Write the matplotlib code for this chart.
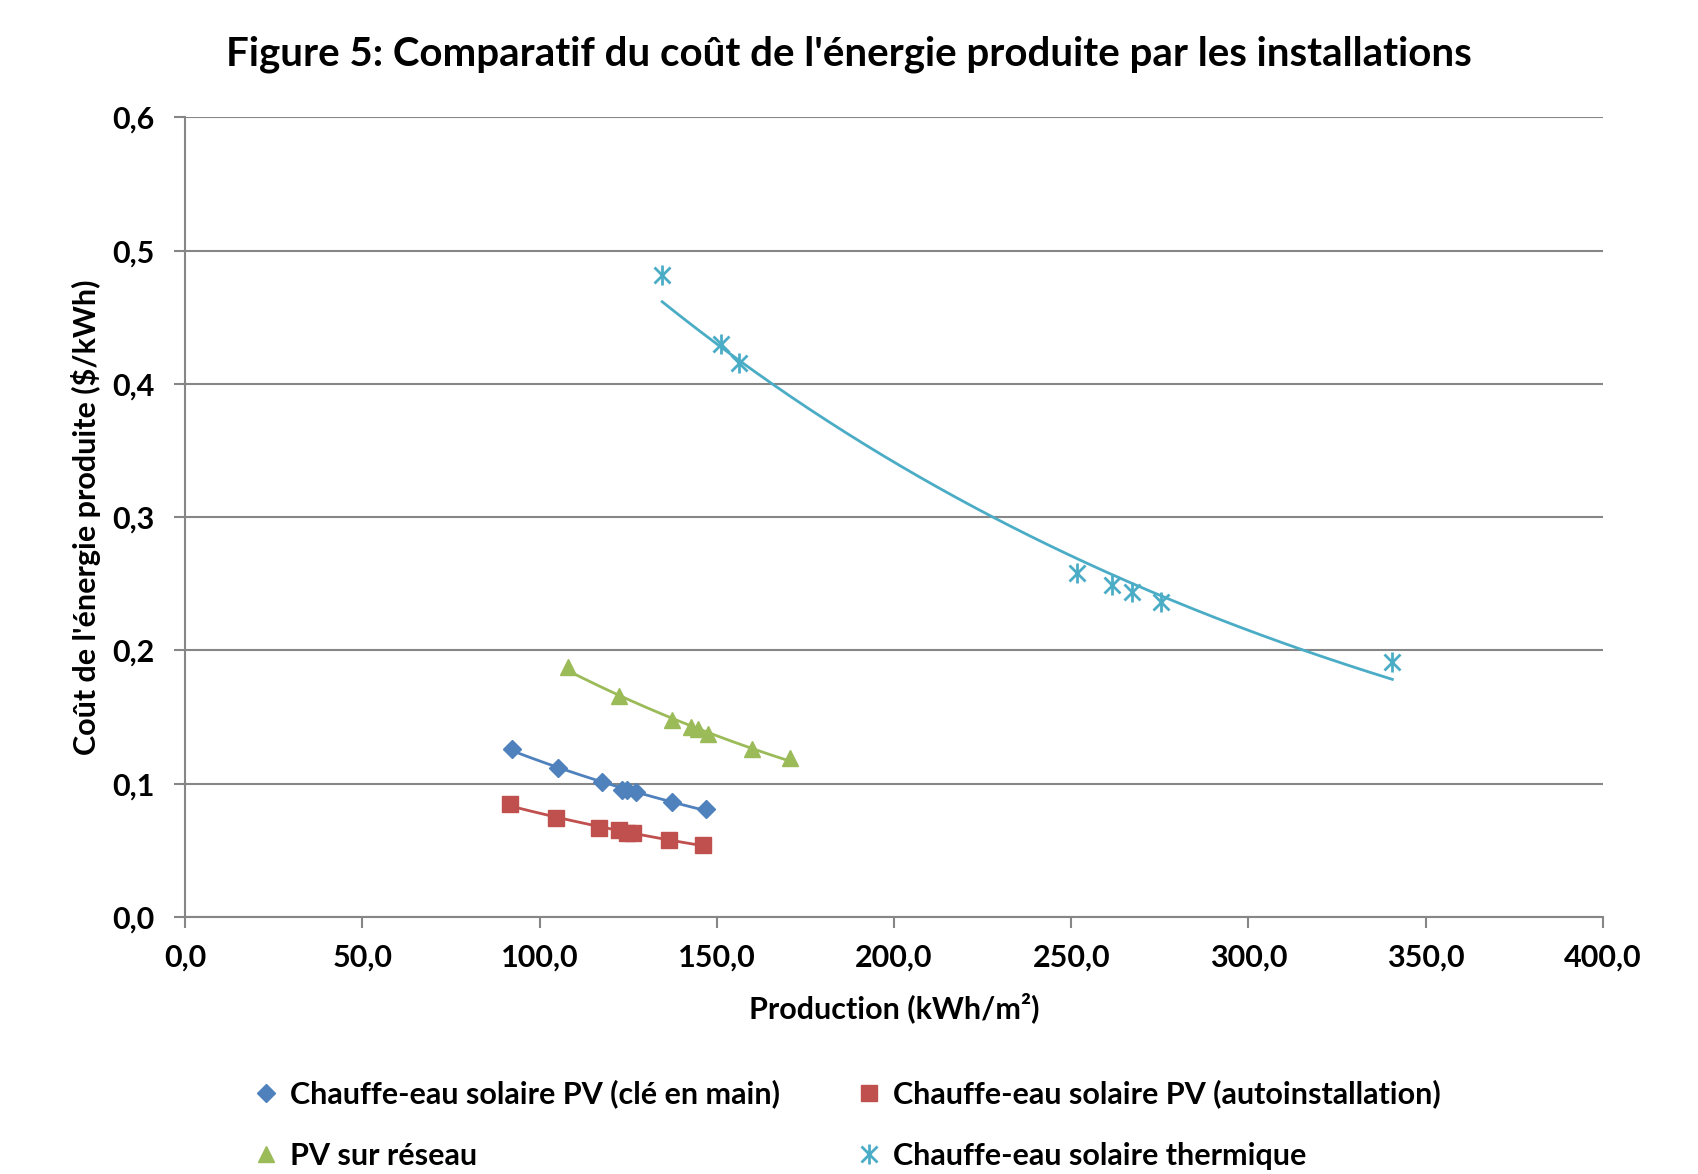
import numpy as np
import matplotlib
matplotlib.use("Agg")
import matplotlib.pyplot as plt
from matplotlib.legend_handler import HandlerTuple
from matplotlib.lines import Line2D

plt.rcParams['font.family'] = ['Lato', 'DejaVu Sans']
plt.rcParams['font.weight'] = 'bold'

# Data
x_cle = [92.3, 105.3, 117.6, 123.2, 124.6, 127.1, 137.3, 146.9]
y_cle = [0.126, 0.112, 0.101, 0.0955, 0.0955, 0.0935, 0.086, 0.081]

x_auto = [91.7, 104.6, 116.9, 122.4, 124.6, 126.3, 136.6, 146.0]
y_auto = [0.085, 0.074, 0.0665, 0.065, 0.063, 0.063, 0.058, 0.054]

x_res = [107.9, 122.4, 137.3, 142.6, 144.8, 147.5, 159.9, 170.7]
y_res = [0.1875, 0.166, 0.148, 0.1425, 0.141, 0.137, 0.126, 0.119]

x_th = [134.6, 151.2, 156.3, 251.6, 261.6, 267.1, 275.4, 340.6]
y_th = [0.482, 0.430, 0.416, 0.258, 0.249, 0.244, 0.2365, 0.1915]

labels = ["Chauffe-eau solaire PV (clé en main)",
          "Chauffe-eau solaire PV (autoinstallation)",
          "PV sur réseau",
          "Chauffe-eau solaire thermique"]
colors = ["#4F81BD", "#C0504D", "#9BBB59", "#4BACC6"]

fig = plt.figure(figsize=(16.98, 11.74), dpi=100)
ax = fig.add_axes([0.109, 0.219, 0.835, 0.681])


def exp_trend(x, y):
    # exponential trendline (least squares on ln y), like Excel
    b, a = np.polyfit(x, np.log(y), 1)
    xs = np.linspace(min(x), max(x), 200)
    return xs, np.exp(a + b * xs)


series = [(x_cle, y_cle), (x_auto, y_auto), (x_res, y_res), (x_th, y_th)]
for (x, y), c in zip(series, colors):
    xs, ys = exp_trend(x, y)
    ax.plot(xs, ys, color=c, lw=2, zorder=2)

ax.plot(x_cle, y_cle, 'D', color=colors[0], ms=9, ls='none', zorder=3)
ax.plot(x_auto, y_auto, 's', color=colors[1], ms=11, ls='none', zorder=3)
ax.plot(x_res, y_res, '^', color=colors[2], ms=12, ls='none', zorder=3)
ax.plot(x_th, y_th, 'x', color=colors[3], ms=12, mew=2, ls='none', zorder=3)
ax.plot(x_th, y_th, '|', color=colors[3], ms=14, mew=2, ls='none', zorder=3)

ax.set_xlim(0, 400)
ax.set_ylim(0, 0.6)
xt = np.arange(0, 401, 50)
yt = np.arange(0, 0.61, 0.1)
ax.set_xticks(xt)
ax.set_yticks(yt)
ax.set_xticklabels([f"{v:.1f}".replace('.', ',') for v in xt])
ax.set_yticklabels([f"{v:.1f}".replace('.', ',') for v in yt])
ax.tick_params(axis='both', labelsize=22, colors='#868686', labelcolor='black',
               length=8, width=1.5)
ax.tick_params(axis='x', pad=11)
ax.tick_params(axis='y', pad=14)
for lab in ax.get_xticklabels() + ax.get_yticklabels():
    lab.set_fontweight('bold')

ax.grid(axis='y', color='#868686', lw=1.5)
ax.set_axisbelow(True)
for s in ['top', 'right']:
    ax.spines[s].set_visible(False)
for s in ['left', 'bottom']:
    ax.spines[s].set_color('#868686')
    ax.spines[s].set_linewidth(1.5)

ax.set_xlabel("Production (kWh/m²)", fontsize=22, fontweight='bold')
ax.set_ylabel("Coût de l'énergie produite ($/kWh)", fontsize=22, fontweight='bold')
ax.xaxis.set_label_coords(0.5, -0.094)
ax.yaxis.set_label_coords(-0.059, 0.5)
fig.suptitle("Figure 5: Comparatif du coût de l'énergie produite par les installations",
             fontsize=29, fontweight='bold', x=0.5, y=0.954, va='center')

h_cle = Line2D([], [], marker='D', color=colors[0], ms=9, ls='none')
h_auto = Line2D([], [], marker='s', color=colors[1], ms=11, ls='none')
h_res = Line2D([], [], marker='^', color=colors[2], ms=12, ls='none')
h_th = (Line2D([], [], marker='x', color=colors[3], ms=12, mew=2, ls='none'),
        Line2D([], [], marker='|', color=colors[3], ms=14, mew=2, ls='none'))
# legend fills column-wise: order so rows read like the original
fig.legend([h_cle, h_res, h_auto, h_th],
           [labels[0], labels[2], labels[1], labels[3]],
           ncol=2, loc='upper left', bbox_to_anchor=(0.133, 0.104),
           frameon=False, handlelength=0.8, handletextpad=0.4,
           columnspacing=2.5, labelspacing=1.1,
           handler_map={tuple: HandlerTuple(ndivide=1, pad=0)},
           prop={'weight': 'bold', 'size': 22})

fig.savefig("out.png", dpi=100)
